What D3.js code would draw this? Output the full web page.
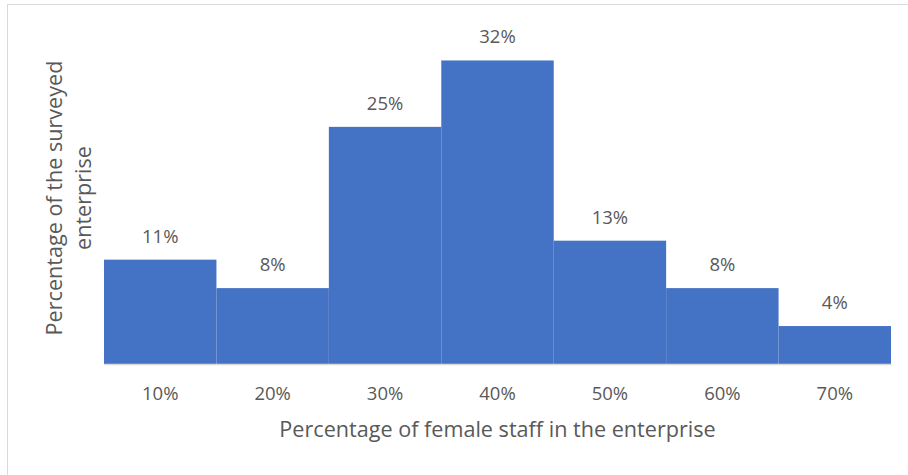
<!DOCTYPE html>
<html>
<head>
<meta charset="utf-8">
<script src="https://cdn.jsdelivr.net/npm/d3@7"></script>
<style>
  html, body { margin: 0; padding: 0; background: #fff; }
  svg { display: block; font-family: "Open Sans", "Noto Sans", sans-serif; }
</style>
</head>
<body>
<svg id="chart" width="908" height="475"></svg>
<script>
// Share of female staff (bins) and share of surveyed enterprises in each bin
const categories = ["10%", "20%", "30%", "40%", "50%", "60%", "70%"];
const values = [11, 8, 25, 32, 13, 8, 4];
const valueLabels = ["11%", "8%", "25%", "32%", "13%", "8%", "4%"];
const xTitle = "Percentage of female staff in the enterprise";
const yTitleLines = ["Percentage of the surveyed", "enterprise"];

const svg = d3.select("#chart");
const W = 908, H = 475;
const plot = { left: 104, right: 891, top: 32, bottom: 364 };
const textColor = "#595959";

// chart frame
svg.append("rect")
  .attr("x", 7.5).attr("y", 4.5)
  .attr("width", W + 10).attr("height", H + 10)
  .attr("fill", "#fff")
  .attr("stroke", "#d9d9d9").attr("stroke-width", 1);

const x = d3.scaleBand()
  .domain(categories)
  .range([plot.left, plot.right])
  .paddingInner(0).paddingOuter(0);

const y = d3.scaleLinear()
  .domain([0, 35])
  .range([plot.bottom, plot.top]);

// bars
svg.append("g")
  .selectAll("rect")
  .data(values)
  .join("rect")
  .attr("x", (d, i) => x(categories[i]))
  .attr("y", d => y(d))
  .attr("width", x.bandwidth())
  .attr("height", d => y(0) - y(d))
  .attr("fill", "#4472C4");

// category axis
const xAxis = svg.append("g")
  .attr("transform", `translate(0,${plot.bottom})`)
  .call(d3.axisBottom(x).tickSize(0).tickPadding(23));
xAxis.select(".domain")
  .attr("stroke", "#d9d9d9").attr("stroke-width", 1.5);
xAxis.selectAll("text")
  .attr("fill", textColor)
  .style("font-size", "18.5px")
  .style("font-family", "'Open Sans', sans-serif");

// value labels
svg.append("g")
  .selectAll("text")
  .data(values)
  .join("text")
  .attr("x", (d, i) => x(categories[i]) + x.bandwidth() / 2)
  .attr("y", d => y(d) - 17)
  .attr("text-anchor", "middle")
  .attr("fill", textColor)
  .style("font-size", "18.5px")
  .text((d, i) => valueLabels[i]);

// axis titles
svg.append("text")
  .attr("x", (plot.left + plot.right) / 2)
  .attr("y", 437)
  .attr("text-anchor", "middle")
  .attr("fill", textColor)
  .style("font-size", "21.6px")
  .text(xTitle);

const yTitle = svg.append("text")
  .attr("transform", "translate(62,198) rotate(-90)")
  .attr("text-anchor", "middle")
  .attr("fill", textColor)
  .style("font-size", "21.6px");
yTitle.selectAll("tspan")
  .data(yTitleLines)
  .join("tspan")
  .attr("x", 0)
  .attr("dy", (d, i) => i === 0 ? 0 : 29)
  .text(d => d);
</script>
</body>
</html>
